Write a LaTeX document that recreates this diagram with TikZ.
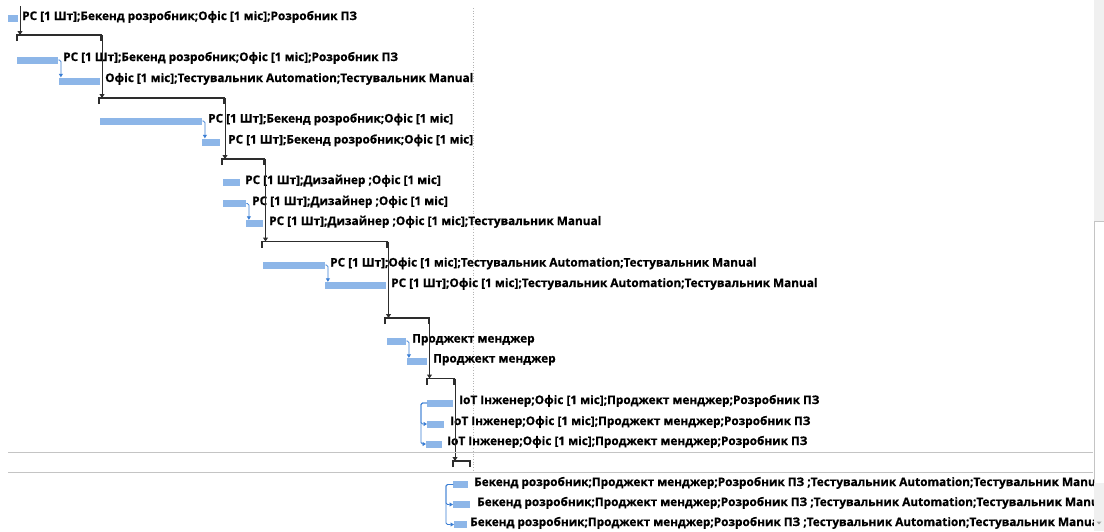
\documentclass[tikz,border=0pt]{standalone}
\usepackage{fontspec}
\setmainfont{Open Sans}[BoldFeatures={FakeBold=0.7}]
\usetikzlibrary{arrows.meta}
\definecolor{barblue}{RGB}{141,182,232}
\definecolor{linkblue}{RGB}{58,126,212}
\definecolor{summgrey}{RGB}{45,45,45}
\definecolor{gridgrey}{RGB}{196,196,196}
\definecolor{dotgrey}{RGB}{180,180,180}
\definecolor{panelgrey}{RGB}{240,240,240}
\begin{document}
\begin{tikzpicture}[x=1pt,y=-1pt,
  bar/.style={fill=barblue, draw=none, minimum height=7pt, inner sep=0pt, anchor=west},
  lbl/.style={anchor=base west, inner sep=0pt, font=\fontsize{11.8}{13}\selectfont\bfseries, text=black},
  summ/.style={draw=summgrey, line width=1.9pt},
  sumlink/.style={draw=summgrey, line width=1pt, -{Triangle[length=4pt,width=5pt]}},
  blink/.style={draw=linkblue, line width=0.8pt, rounded corners=1.5pt, -{Triangle[length=3.5pt,width=4pt]}}]
\useasboundingbox (0,0) rectangle (1104,531);
\fill[white] (0,0) rectangle (1104,531);

% timescale divider
\draw[dotgrey, line width=0.7pt, dotted] (473,8) -- (473,472);

% task bars
\node[bar, minimum width=10pt] (A) at (8,18.5) {};
\node[bar, minimum width=41pt] (B) at (17,60) {};
\node[bar, minimum width=41pt] (C) at (59,81) {};
\node[bar, minimum width=102pt] (D) at (100,121) {};
\node[bar, minimum width=18pt] (E) at (202,142) {};
\node[bar, minimum width=17pt] (F) at (223,182.5) {};
\node[bar, minimum width=23pt] (G) at (223,203.5) {};
\node[bar, minimum width=17pt] (H) at (246,223.5) {};
\node[bar, minimum width=62pt] (I) at (263,265) {};
\node[bar, minimum width=61pt] (J) at (325,285.5) {};
\node[bar, minimum width=19pt] (K) at (387,341) {};
\node[bar, minimum width=20pt] (L) at (407,361.5) {};
\node[bar, minimum width=26pt] (M) at (427,403) {};
\node[bar, minimum width=17pt] (N) at (427,424) {};
\node[bar, minimum width=16pt] (O) at (426,444) {};
\node[bar, minimum width=15pt] (P) at (453,484.5) {};
\node[bar, minimum width=17pt] (Q) at (453,504.5) {};
\node[bar, minimum width=13pt] (R) at (454,524.5) {};

% resource labels
\node[lbl] (tA) at (22,20) {РС [1 Шт];Бекенд розробник;Офіс [1 міс];Розробник ПЗ};
\node[lbl] (tB) at (63,61) {РС [1 Шт];Бекенд розробник;Офіс [1 міс];Розробник ПЗ};
\node[lbl] (tC) at (105,82) {Офіс [1 міс];Тестувальник Automation;Тестувальник Manual};
\node[lbl] (tD) at (208,122.5) {РС [1 Шт];Бекенд розробник;Офіс [1 міс]};
\node[lbl] (tE) at (228,143.5) {РС [1 Шт];Бекенд розробник;Офіс [1 міс]};
\node[lbl] (tF) at (245,184) {РС [1 Шт];Дизайнер ;Офіс [1 міс]};
\node[lbl] (tG) at (252,205) {РС [1 Шт];Дизайнер ;Офіс [1 міс]};
\node[lbl] (tH) at (269,225) {РС [1 Шт];Дизайнер ;Офіс [1 міс];Тестувальник Manual};
\node[lbl] (tI) at (330,266.5) {РС [1 Шт];Офіс [1 міс];Тестувальник Automation;Тестувальник Manual};
\node[lbl] (tJ) at (391,287) {РС [1 Шт];Офіс [1 міс];Тестувальник Automation;Тестувальник Manual};
\node[lbl] (tK) at (412,342.5) {Проджект менджер};
\node[lbl] (tL) at (433,362.5) {Проджект менджер};
\node[lbl] (tM) at (459,404) {IoT Інженер;Офіс [1 міс];Проджект менджер;Розробник ПЗ};
\node[lbl] (tN) at (450,425) {IoT Інженер;Офіс [1 міс];Проджект менджер;Розробник ПЗ};
\node[lbl] (tO) at (447,445) {IoT Інженер;Офіс [1 міс];Проджект менджер;Розробник ПЗ};
\node[lbl] (tP) at (474,486) {Бекенд розробник;Проджект менджер;Розробник ПЗ ;Тестувальник Automation;Тестувальник Manual};
\node[lbl] (tQ) at (477,506) {Бекенд розробник;Проджект менджер;Розробник ПЗ ;Тестувальник Automation;Тестувальник Manual};
\node[lbl] (tR) at (470,526) {Бекенд розробник;Проджект менджер;Розробник ПЗ ;Тестувальник Automation;Тестувальник Manual};

% summary bracket ends
\coordinate (s1l) at (17,35);   \coordinate (s1r) at (101,35);
\coordinate (s2l) at (99,98);   \coordinate (s2r) at (224,98);
\coordinate (s3l) at (222,159); \coordinate (s3r) at (264,159);
\coordinate (s4l) at (262,241.5); \coordinate (s4r) at (387,241.5);
\coordinate (s5l) at (385,318); \coordinate (s5r) at (429,318);
\coordinate (s6l) at (427,378.5); \coordinate (s6r) at (454,378.5);
\coordinate (s7l) at (453,461); \coordinate (s7r) at (470,461);
\coordinate (top) at (20,6);

\foreach \s in {1,...,7}{
  \draw[summ] ([yshift=-6pt]s\s l) -- (s\s l) -- (s\s r) -- ([yshift=-6pt]s\s r);
}

% summary-to-summary links
\draw[sumlink] (top) -- (top |- s1l);
\draw[sumlink] ([xshift=1pt]s1r) -- ([xshift=1pt]s1r |- s2l);
\draw[sumlink] ([xshift=1pt]s2r) -- ([xshift=1pt]s2r |- s3l);
\draw[sumlink] ([xshift=1.5pt]s3r) -- ([xshift=1.5pt]s3r |- s4l);
\draw[sumlink] ([xshift=1.5pt]s4r) -- ([xshift=1.5pt]s4r |- s5l);
\draw[sumlink] ([xshift=0.5pt]s5r) -- ([xshift=0.5pt]s5r |- s6l);
\draw[sumlink] ([xshift=1pt]s6r) -- ([xshift=1pt]s6r |- s7l);

% task-to-task links
\coordinate (bB) at ([xshift=2.5pt]B.east);
\draw[blink] (B.east) -| (bB |- C.north);
\coordinate (bD) at ([xshift=2.5pt]D.east);
\draw[blink] (D.east) -| (bD |- E.north);
\coordinate (bG) at ([xshift=2.5pt]G.east);
\draw[blink] (G.east) -| (bG |- H.north);
\coordinate (bI) at ([xshift=2.5pt]I.east);
\draw[blink] (I.east) -| (bI |- J.north);
\coordinate (bK) at ([xshift=2.5pt]K.east);
\draw[blink] (K.east) -| (bK |- L.north);
\coordinate (bM) at ([xshift=-6pt]M.west);
\draw[blink] (M.west) -- (bM) |- (N.west);
\draw[blink] (M.west) -- (bM) |- (O.west);
\coordinate (bP) at ([xshift=-7pt]P.west);
\draw[blink] (P.west) -- (bP) |- (Q.west);
\draw[blink] (P.west) -- (bP) |- (R.west);

% split divider rows
\draw[gridgrey, line width=0.9pt] (8,452.5) -- (1093,452.5);
\draw[gridgrey, line width=0.9pt] (8,472.5) -- (1093,472.5);

% right-hand panel and scroll bar
\fill[panelgrey] (1094,0) rectangle (1104,221);
\fill[white] (1093.6,221) rectangle (1104,531);
\draw[gridgrey, line width=0.8pt] (1094,221) -- (1094,531);
\draw[gridgrey, line width=0.8pt] (1094,221) -- (1104,221);
\fill[panelgrey] (1094.4,483) rectangle (1104,531);
\fill[gray!70] (1096.5,521.5) -- (1101.5,521.5) -- (1099,524.5) -- cycle;
\end{tikzpicture}
\end{document}
